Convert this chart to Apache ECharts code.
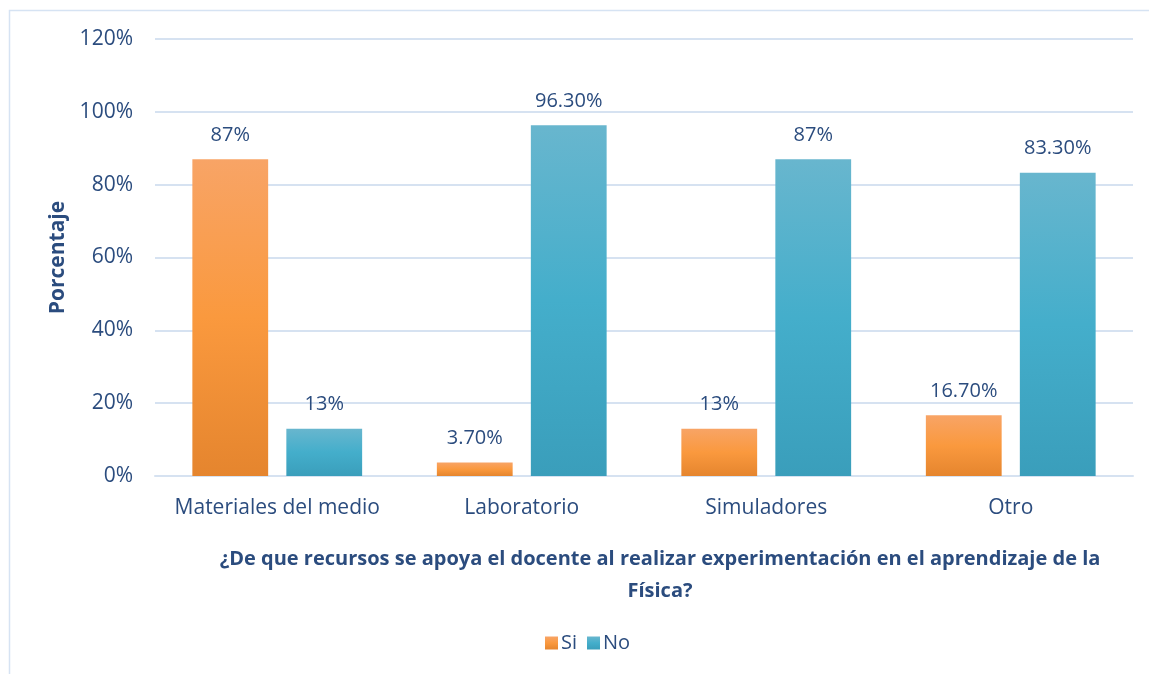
<!DOCTYPE html>
<html>
<head>
<meta charset="utf-8">
<script src="https://cdn.jsdelivr.net/npm/echarts@6/dist/echarts.min.js"></script>
<style>
  html, body { margin: 0; padding: 0; background: #fff; }
  #chart { width: 1149px; height: 674px; }
</style>
</head>
<body>
<div id="chart"></div>
<script>
// datos
const categorias = ["Materiales del medio", "Laboratorio", "Simuladores", "Otro"];
const valoresSi = [87, 3.7, 13, 16.7];
const valoresNo = [13, 96.3, 87, 83.3];
const ticksY = [0, 20, 40, 60, 80, 100, 120];

const FONT = "'Open Sans', 'Noto Sans', sans-serif";
const TEXTO = "#2B4C7E";

const fmt = (v) => (Number.isInteger(v) ? v : v.toFixed(2)) + "%";

const grad = (top, mid, bottom) =>
  new echarts.graphic.LinearGradient(0, 0, 0, 1, [
    { offset: 0, color: top },
    { offset: 0.5, color: mid },
    { offset: 1, color: bottom },
  ]);

const label = {
  show: true,
  position: "top",
  distance: 14,
  color: TEXTO,
  fontFamily: FONT,
  fontSize: 20,
  formatter: (p) => fmt(p.value),
};

const chart = echarts.init(document.getElementById("chart"));
chart.setOption({
  animation: false,
  grid: { left: 155, right: 16, top: 39, bottom: 198 },
  legend: {
    data: ["Si", "No"],
    top: 628,
    left: 540,
    itemWidth: 13,
    itemHeight: 13,
    itemGap: 10,
    icon: "rect",
    textStyle: { color: TEXTO, fontFamily: FONT, fontSize: 20, padding: [0, 0, 0, -2] },
  },
  xAxis: {
    type: "category",
    data: categorias,
    axisLine: { lineStyle: { color: "#D6E2F1", width: 2 } },
    axisTick: { show: false },
    axisLabel: { color: TEXTO, fontFamily: FONT, fontSize: 21, margin: 22, interval: 0 },
  },
  yAxis: {
    type: "value",
    min: ticksY[0],
    max: ticksY[ticksY.length - 1],
    interval: 20,
    name: "Porcentaje",
    nameLocation: "middle",
    nameGap: 86,
    nameTextStyle: { color: TEXTO, fontFamily: FONT, fontSize: 21, fontWeight: "bold" },
    axisLine: { show: false },
    axisTick: { show: false },
    splitLine: { lineStyle: { color: "#D6E2F1", width: 2 } },
    axisLabel: { color: TEXTO, fontFamily: FONT, fontSize: 21, margin: 22, formatter: "{value}%" },
  },
  series: [
    {
      name: "Si",
      type: "bar",
      data: valoresSi,
      barWidth: "31%",
      barGap: "24%",
      itemStyle: { color: grad("#F8A466", "#FA993E", "#E5852E") },
      label,
    },
    {
      name: "No",
      type: "bar",
      data: valoresNo,
      barWidth: "31%",
      itemStyle: { color: grad("#68B6CE", "#44AECB", "#3A9EBB") },
      label,
    },
  ],
  graphic: [
    {
      type: "rect",
      shape: { x: 9.5, y: 10.5, width: 1300, height: 800 },
      style: { fill: "none", stroke: "#D6E3F3", lineWidth: 1.5 },
      silent: true,
    },
    {
      type: "text",
      style: {
        x: 660,
        y: 543,
        text: "¿De que recursos se apoya el docente al realizar experimentación en el aprendizaje de la\nFísica?",
        textAlign: "center",
        fill: TEXTO,
        font: "bold 20px " + FONT,
        lineHeight: 32,
      },
    },
  ],
});
</script>
</body>
</html>
